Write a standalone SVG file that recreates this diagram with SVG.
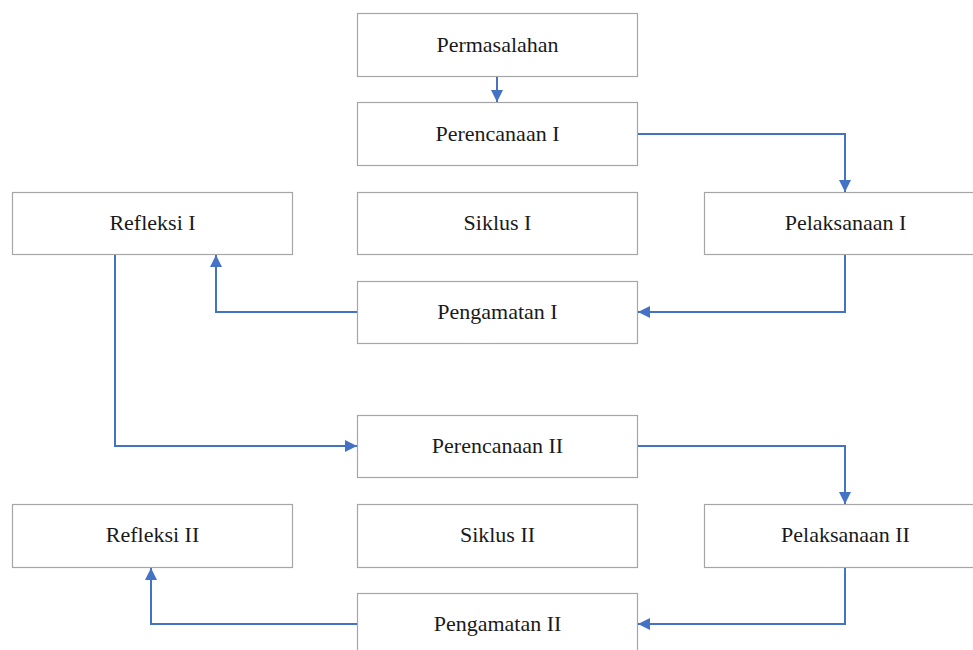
<svg xmlns="http://www.w3.org/2000/svg" width="973" height="650" viewBox="0 0 973 650">
<defs>
<style>
.box{fill:#fff;stroke:#a6a6a6;stroke-width:1.2}
.lbl{font-family:"Liberation Serif","Times New Roman",serif;font-size:22px;fill:#1a1a1a;text-anchor:middle}
.con{fill:none;stroke:#4472c4;stroke-width:2}
</style>
<marker id="ah" markerUnits="userSpaceOnUse" markerWidth="14" markerHeight="12" refX="12" refY="6" orient="auto">
<path d="M0,0 L12,6 L0,12 Z" fill="#4472c4"/>
</marker>
</defs>
<rect width="973" height="650" fill="#fff"/>
<g id="permasalahan"><rect class="box" x="357.5" y="13.5" width="280" height="63"/><text class="lbl" x="497.5" y="52">Permasalahan</text></g>
<g id="perencanaan1"><rect class="box" x="357.5" y="102.5" width="280" height="63"/><text class="lbl" x="497.5" y="141">Perencanaan I</text></g>
<g id="refleksi1"><rect class="box" x="12.5" y="192.5" width="280" height="62"/><text class="lbl" x="152.5" y="230">Refleksi I</text></g>
<g id="siklus1"><rect class="box" x="357.5" y="192.5" width="280" height="62"/><text class="lbl" x="497.5" y="230">Siklus I</text></g>
<g id="pelaksanaan1"><rect class="box" x="704.5" y="192.5" width="282" height="62"/><text class="lbl" x="845.5" y="230">Pelaksanaan I</text></g>
<g id="pengamatan1"><rect class="box" x="357.5" y="281.5" width="280" height="62"/><text class="lbl" x="497.5" y="319">Pengamatan I</text></g>
<g id="perencanaan2"><rect class="box" x="357.5" y="415.5" width="280" height="62"/><text class="lbl" x="497.5" y="453">Perencanaan II</text></g>
<g id="refleksi2"><rect class="box" x="12.5" y="504.5" width="280" height="63"/><text class="lbl" x="152.5" y="542">Refleksi II</text></g>
<g id="siklus2"><rect class="box" x="357.5" y="504.5" width="280" height="63"/><text class="lbl" x="497.5" y="542">Siklus II</text></g>
<g id="pelaksanaan2"><rect class="box" x="704.5" y="504.5" width="282" height="63"/><text class="lbl" x="845.5" y="542">Pelaksanaan II</text></g>
<g id="pengamatan2"><rect class="box" x="357.5" y="593.5" width="280" height="63"/><text class="lbl" x="497.5" y="631">Pengamatan II</text></g>
<g id="connectors">
<path class="con" d="M497,77 V102" marker-end="url(#ah)"/>
<path class="con" d="M638,134 H845 V192" marker-end="url(#ah)"/>
<path class="con" d="M845,255 V312 H638" marker-end="url(#ah)"/>
<path class="con" d="M357,312 H216 V255" marker-end="url(#ah)"/>
<path class="con" d="M115,255 V446 H357" marker-end="url(#ah)"/>
<path class="con" d="M638,446 H845 V504" marker-end="url(#ah)"/>
<path class="con" d="M845,568 V624 H638" marker-end="url(#ah)"/>
<path class="con" d="M357,624 H151 V568" marker-end="url(#ah)"/>
</g>
</svg>
